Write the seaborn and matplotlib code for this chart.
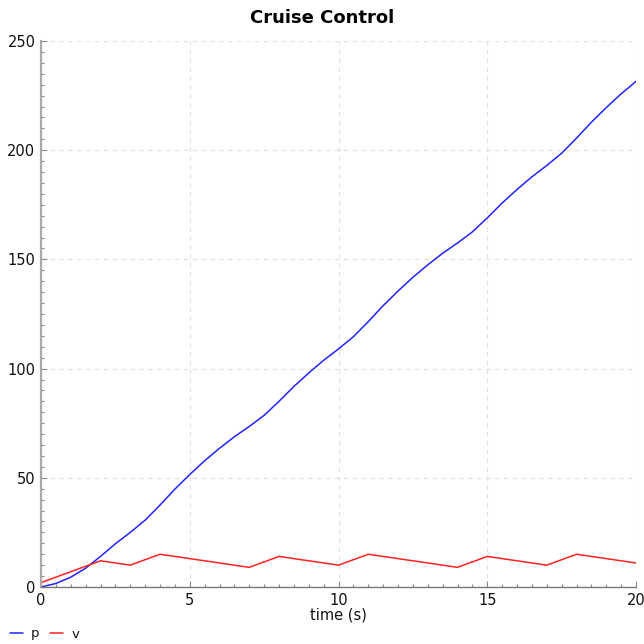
import matplotlib
matplotlib.use("Agg")
import matplotlib.pyplot as plt
import seaborn as sns
import pandas as pd
from matplotlib.ticker import MultipleLocator
from matplotlib.lines import Line2D

# time samples (s)
t_p = [0, 0.5, 1, 1.5, 2, 2.5, 3, 3.5, 4, 4.5, 5, 5.5, 6, 6.5, 7, 7.5, 8, 8.5, 9, 9.5,
       10, 10.5, 11, 11.5, 12, 12.5, 13, 13.5, 14, 14.5, 15, 15.5, 16, 16.5, 17, 17.5,
       18, 18.5, 19, 19.5, 20]
p_vals = [0, 1.6, 4.5, 8.6, 14.0, 19.8, 25.0, 30.6, 37.5, 44.8, 51.5, 57.8, 63.5, 68.8,
          73.5, 78.6, 85.0, 91.8, 98.0, 103.8, 109.0, 114.6, 121.5, 128.8, 135.5, 141.8,
          147.5, 152.8, 157.5, 162.6, 169.0, 175.8, 182.0, 187.8, 193.0, 198.6, 205.5,
          212.8, 219.5, 225.8, 231.5]
t_v = [0, 2, 3, 4, 7, 8, 10, 11, 14, 15, 17, 18, 20]
v_vals = [2, 12, 10, 15, 9, 14, 10, 15, 9, 14, 10, 15, 11]

df = pd.concat([
    pd.DataFrame({"time": t_p, "value": p_vals, "series": "p"}),
    pd.DataFrame({"time": t_v, "value": v_vals, "series": "v"}),
], ignore_index=True)

sns.set_style("white")
plt.rcParams["font.family"] = ["DejaVu Sans"]
plt.rcParams["text.color"] = "#111111"
plt.rcParams["axes.labelcolor"] = "#111111"

fig = plt.figure(figsize=(6.44, 6.44), dpi=100)
ax = fig.add_axes([41/644, 1-587/644, (636-41)/644, (587-41)/644])

sns.lineplot(data=df, x="time", y="value", hue="series",
             palette={"p": "#2222ff", "v": "#ff2222"}, linewidth=1.1,
             ax=ax, legend=False, sort=False, estimator=None)

ax.set_xlim(0, 20)
ax.set_ylim(0, 250)
ax.xaxis.set_major_locator(MultipleLocator(5))
ax.xaxis.set_minor_locator(MultipleLocator(0.5))
ax.yaxis.set_major_locator(MultipleLocator(50))
ax.yaxis.set_minor_locator(MultipleLocator(5))
ax.grid(True, which="major", linestyle=(0, (4, 4)), color="#e0e0e0", linewidth=0.8)
ax.tick_params(which="both", bottom=True, left=True, top=False, right=False)
ax.tick_params(which="major", direction="in", length=4, width=0.8, color="#888888",
               labelsize=10.5, labelcolor="#111111", pad=4)
ax.tick_params(which="minor", direction="in", length=2, width=0.8, color="#888888")
for s in ["top", "right"]:
    ax.spines[s].set_visible(False)
ax.spines["left"].set_color("#aaaaaa")
ax.spines["left"].set_linewidth(1.6)
ax.spines["bottom"].set_color("#777777")
ax.spines["bottom"].set_linewidth(1)

ax.set_xlabel("time (s)", fontsize=10.5, labelpad=0, color="#111111")
ax.set_ylabel("")
fig.text(0.5, 1-18/644, "Cruise Control", ha="center", va="center",
         fontsize=13, fontweight="bold", color="#000000")

handles = [Line2D([], [], color="#2222ff", lw=1.1), Line2D([], [], color="#ff2222", lw=1.1)]
fig.legend(handles, ["p", "v"], loc="center left", bbox_to_anchor=(10/644, 1-634/644),
           ncol=2, frameon=False, fontsize=9.5, handlelength=1.0, handletextpad=0.6,
           columnspacing=0.8, borderaxespad=0, borderpad=0.0)

fig.savefig("out.png", dpi=100)
